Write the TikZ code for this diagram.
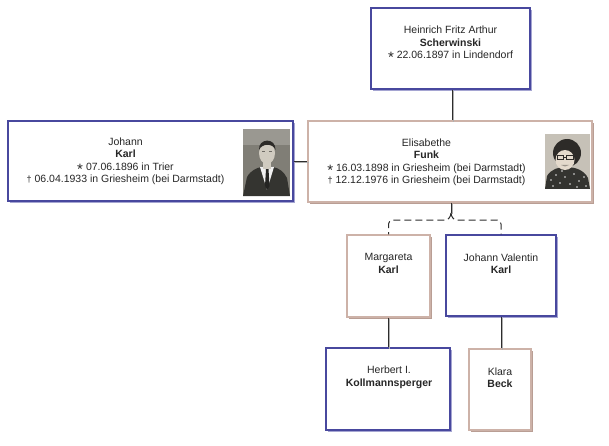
\documentclass[tikz,border=0pt]{standalone}
\usepackage{fontspec}
\setmainfont{Liberation Sans}
\usetikzlibrary{shadows,calc}
\definecolor{bdraw}{RGB}{72,72,158}
\definecolor{bshadow}{RGB}{165,165,210}
\definecolor{tdraw}{RGB}{205,178,168}
\definecolor{tshadow}{RGB}{185,158,148}
\definecolor{linec}{RGB}{45,45,45}
\definecolor{lineshadow}{RGB}{175,175,175}
\definecolor{photoJ}{RGB}{128,126,118}
\definecolor{suitc}{RGB}{52,52,48}
\definecolor{facec}{RGB}{208,203,192}
\definecolor{hairc}{RGB}{45,43,40}
\definecolor{photoE}{RGB}{198,193,183}
\definecolor{facee}{RGB}{228,218,204}
\newcommand{\bornsym}{\smash{\raisebox{-0.75ex}{\fontsize{15}{15}\selectfont *}}}
\newcommand{\diedsym}{\smash{{\small\raisebox{0.2ex}{†}}}}
\begin{document}
\begin{tikzpicture}[x=1pt,y=-1pt,
  font=\fontsize{10.5}{12.5}\selectfont,
  box/.style={draw, line width=1.1pt, fill=white, inner sep=0pt},
  bluebox/.style={box, draw=bdraw, drop shadow={shadow xshift=2.3pt, shadow yshift=-2.3pt, fill=bshadow, opacity=1}},
  tanbox/.style={box, draw=tdraw, drop shadow={shadow xshift=2.3pt, shadow yshift=-2.3pt, fill=tshadow, opacity=1}},
  txt/.style={align=center, inner sep=0pt, text=black!85},
  conn/.style={draw=linec, line width=0.9pt, preaction={draw=lineshadow, line width=0.9pt, transform canvas={xshift=1.2pt, yshift=-1.2pt}}},
  kid/.style={draw=linec, line width=1pt, dash pattern=on 7pt off 4pt, rounded corners=4pt},
]
\useasboundingbox (0,0) rectangle (609,446);

\coordinate (fork) at (451,213);

% ---- boxes
\node[bluebox, minimum width=159pt, minimum height=81pt] (heinrich) at (450.5,48.5) {};
\node[bluebox, minimum width=285pt, minimum height=80pt] (johann) at (150.5,161) {};
\node[tanbox, minimum width=284pt, minimum height=81pt] (elisabethe) at (450,161.5) {};
\node[tanbox, minimum width=83pt, minimum height=82pt] (margareta) at (388.5,276) {};
\node[bluebox, minimum width=110pt, minimum height=81pt] (johannv) at (501,275.5) {};
\node[bluebox, minimum width=124pt, minimum height=82pt] (herbert) at (388,389) {};
\node[tanbox, minimum width=62pt, minimum height=81pt] (klara) at (500,389.5) {};

% ---- connectors
\draw[conn] ($(heinrich.south)+(1.5,0)$) -- ($(heinrich.south |- elisabethe.north)+(1.5,0)$);
\draw[conn] (johann.east) -- (johann.east -| elisabethe.west);
\draw[conn] (elisabethe.south -| fork) -- (fork);
\draw[kid] (fork) to[out=-90,in=0] ($(fork)+(-8,7)$) -| (margareta.north);
\draw[kid] (fork) to[out=-90,in=180] ($(fork)+(8,7)$) -| (johannv.north);
\draw[conn] (margareta.south) -- (margareta.south |- herbert.north);
\draw[conn] (johannv.south) -- (johannv.south |- klara.north);

% ---- texts
\node[txt] (heinrichtxt) at (450.5,42.5) {Heinrich Fritz Arthur\\\textbf{Scherwinski}\\\bornsym\ 22.06.1897 in Lindendorf};
\node[txt] (johanntxt) at (125.5,161.5) {Johann\\\textbf{Karl}\\\bornsym\ 07.06.1896 in Trier\\\diedsym\ 06.04.1933 in Griesheim (bei Darmstadt)};
\node[txt] (elisabethetxt) at (426.5,162.5) {Elisabethe\\\textbf{Funk}\\\bornsym\ 16.03.1898 in Griesheim (bei Darmstadt)\\\diedsym\ 12.12.1976 in Griesheim (bei Darmstadt)};
\node[txt] (margaretatxt) at (388.5,263.5) {Margareta\\\textbf{Karl}};
\node[txt] (johannvtxt) at (501,263.5) {Johann Valentin\\\textbf{Karl}};
\node[txt] (herberttxt) at (389,377.5) {Herbert I.\\\textbf{Kollmannsperger}};
\node[txt] (klaratxt) at (500,377.5) {Klara\\\textbf{Beck}};

% ---- photo of Johann
\begin{scope}
\clip (243,129) rectangle (290,196);
\fill[photoJ] (243,129) rectangle (290,196);
\fill[photoJ!80!white] (243,129) rectangle (290,145);
\fill[suitc] (243,196) -- (247,177) .. controls (251,170) and (257,168) .. (261,167) -- (273,167) .. controls (279,168) and (284,172) .. (287,178) -- (290,196) -- cycle;
\fill[white!88!gray] (260,167) -- (274,167) -- (267,190) -- cycle;
\fill[suitc!70!black] (266,169) -- (268.5,169) -- (269.5,186) -- (267.2,190) -- (265,186) -- cycle;
\fill[facec] (263,160) rectangle (271,169);
\fill[facec] (267,153) ellipse [x radius=8, y radius=11];
\fill[hairc] (259,150) .. controls (258,138) and (276,137) .. (275.5,150) .. controls (273,143) and (262,143) .. cycle;
\fill[hairc!60!facec] (262,151) rectangle (265,152.5);
\fill[hairc!60!facec] (269,151) rectangle (272,152.5);
\end{scope}

% ---- photo of Elisabethe
\begin{scope}
\clip (545,134) rectangle (590,189);
\fill[photoE] (545,134) rectangle (590,189);
\fill[hairc] (567,153) ellipse [x radius=14, y radius=14];
\fill[suitc] (545,189) -- (547,176) .. controls (551,169) and (559,167) .. (566,167) .. controls (575,167) and (584,170) .. (588,178) -- (590,189) -- cycle;
\foreach \p in {(551,180),(556,175),(560,183),(565,177),(570,184),(574,174),(579,181),(584,177),(586,186),(553,186),(577,187),(562,171)}
  \fill[white!80!gray] \p circle (0.9);
\fill[facee] (565,160) ellipse [x radius=9.5, y radius=10];
\draw[hairc, line width=0.7pt] (557,155) rectangle (563.5,159.5);
\draw[hairc, line width=0.7pt] (566.5,155) rectangle (573,159.5);
\draw[hairc, line width=0.6pt] (563.5,157) -- (566.5,157);
\fill[hairc!40!facee] (561,165) -- (569,165) -- (565,166.5) -- cycle;
\end{scope}
\end{tikzpicture}
\end{document}
